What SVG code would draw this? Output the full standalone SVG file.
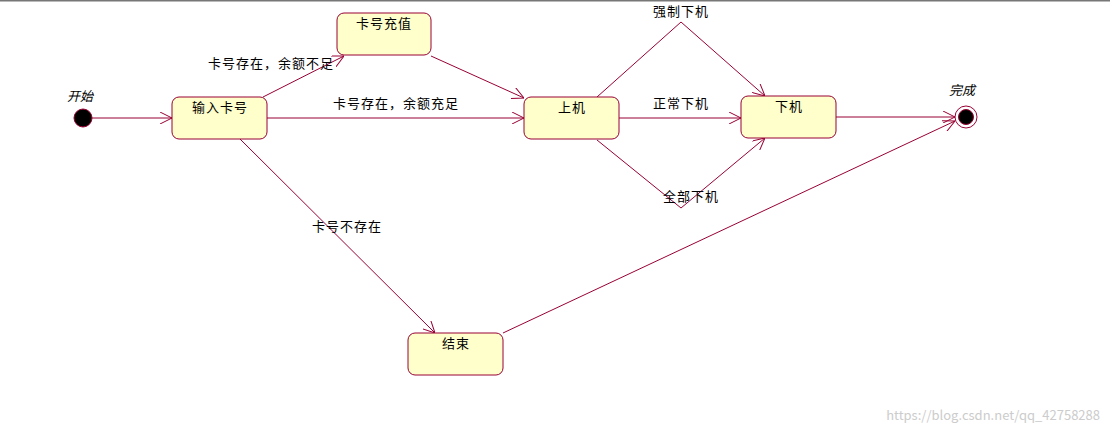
<svg xmlns="http://www.w3.org/2000/svg" width="1110" height="436" viewBox="0 0 1110 436">
<style>
.n{fill:#ffffcc;stroke:#990033;stroke-width:1}
.e{fill:none;stroke:#990033;stroke-width:1;marker-end:url(#a)}
text{font-family:"Noto Sans CJK SC","Liberation Sans",sans-serif;font-size:13px;letter-spacing:1px;fill:#000}
.t{text-anchor:middle}
.i{font-style:italic;letter-spacing:0}
</style>
<defs><marker id="a" viewBox="0 0 12 12" refX="12" refY="6" markerWidth="12" markerHeight="12" markerUnits="userSpaceOnUse" orient="auto"><path d="M0,0 L12,6 L0,12" fill="none" stroke="#990033"/></marker></defs>
<rect width="1110" height="436" fill="#fff"/>
<line x1="0" y1="0.5" x2="1110" y2="0.5" stroke="#777" stroke-width="2"/>
<g id="edges">
<path class="e" d="M92,118 L172,118"/>
<path class="e" d="M263,97 L344,56"/>
<path class="e" d="M431,56 L524,98"/>
<path class="e" d="M267,118 L524,118"/>
<path class="e" d="M597,97 L681,22 L765,96"/>
<path class="e" d="M619,118 L741,118"/>
<path class="e" d="M597,140 L681,208 L765,138"/>
<path class="e" d="M836,117 L955,117"/>
<path class="e" d="M240,139 L435,333"/>
<path class="e" d="M503,333 L955,121"/>
<text x="271" y="68" class="t">卡号存在，余额不足</text>
<text x="396" y="108" class="t">卡号存在，余额充足</text>
<text x="681" y="16" class="t">强制下机</text>
<text x="681" y="108" class="t">正常下机</text>
<text x="691" y="201" class="t">全部下机</text>
<text x="347" y="231" class="t">卡号不存在</text>
</g>
<g id="start"><circle cx="83" cy="118" r="9" fill="#000" stroke="#990033"/><text x="80" y="101" class="t i">开始</text></g>
<g id="end"><circle cx="966" cy="117" r="11" fill="#fff" stroke="#990033"/><circle cx="966" cy="117" r="7.5" fill="#000" stroke="#990033"/><text x="962" y="95" class="t i">完成</text></g>
<g id="input"><rect class="n" x="172" y="97" width="95" height="42" rx="7"/><text x="220" y="112" class="t">输入卡号</text></g>
<g id="recharge"><rect class="n" x="337" y="13" width="94" height="42" rx="7"/><text x="384" y="28" class="t">卡号充值</text></g>
<g id="online"><rect class="n" x="524" y="97" width="95" height="42" rx="7"/><text x="572" y="112" class="t">上机</text></g>
<g id="offline"><rect class="n" x="741" y="96" width="95" height="42" rx="7"/><text x="789" y="111" class="t">下机</text></g>
<g id="finish"><rect class="n" x="408" y="333" width="95" height="42" rx="7"/><text x="456" y="348" class="t">结束</text></g>
<text x="1100" y="420" style="text-anchor:end;font-size:13px;letter-spacing:0;fill:#ccc">https://blog.csdn.net/qq_42758288</text>
</svg>
